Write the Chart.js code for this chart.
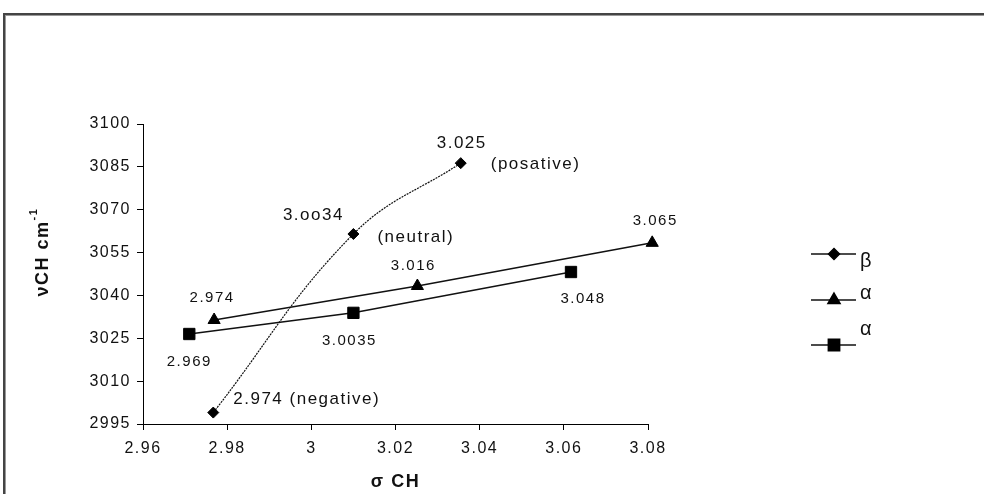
<!DOCTYPE html>
<html>
<head>
<meta charset="utf-8">
<script src="https://cdn.jsdelivr.net/npm/chart.js@4.4.1/dist/chart.umd.min.js"></script>
<style>
  html, body { margin: 0; padding: 0; background: #fff; }
  #wrap { width: 984px; height: 494px; position: relative; }
</style>
</head>
<body>
<div id="wrap"><canvas id="chart" width="984" height="494"></canvas></div>
<script>
// values (x = sigma CH, y = nu CH in cm-1)
const betaSigma = [2.9767, 3.0100, 3.0355];
const betaNu = [2999.0, 3061.5, 3086.3];
const triSigma = [2.9769, 3.0252, 3.0810];
const triNu = [3031.4, 3043.3, 3058.4];
const sqSigma = [2.9710, 3.0100, 3.0617];
const sqNu = [3026.5, 3033.9, 3048.2];

// point labels as printed on the figure
const betaLabels = ["2.974 (negative)", "3.oo34", "3.025"];
const betaNotes = ["", "(neutral)", "(posative)"];
const triLabels = ["2.974", "3.016", "3.065"];
const sqLabels = ["2.969", "3.0035", "3.048"];

const seriesNames = ["\u03b2", "\u03b1", "\u03b1"];
const xTicks = { min: 2.96, max: 3.08, step: 0.02 };
const yTicks = { min: 2995, max: 3100, step: 15 };

const FONT = "'Liberation Sans', Arial, sans-serif";
const SPACING = "1.5px";

const toPoints = (xs, ys) => xs.map((x, i) => ({ x: x, y: ys[i] }));

// letter spacing has to be set again after every canvas reset
const spacingPlugin = {
    id: "spacing",
    beforeLayout(chart) { chart.ctx.letterSpacing = SPACING; },
    beforeDraw(chart) { chart.ctx.letterSpacing = SPACING; }
};

const framePlugin = {
    id: "frame",
    beforeDraw(chart) {
        const ctx = chart.ctx;
        ctx.save();
        ctx.fillStyle = "#fff";
        ctx.fillRect(0, 0, chart.width, chart.height);
        ctx.fillStyle = "#444";
        ctx.fillRect(3, 13, chart.width, 2);
        ctx.fillRect(3, 13, 2, chart.height);
        ctx.fillStyle = "#999";
        ctx.fillRect(5, 15, chart.width, 1);
        ctx.fillRect(5, 15, 1, chart.height);
        ctx.restore();
    }
};

// text next to the points: [dataset, index, text, dx, dy, align, size]
const labelPlugin = {
    id: "pointText",
    afterDatasetsDraw(chart) {
        const ctx = chart.ctx;
        const items = [];
        betaLabels.forEach((t, i) => {
            const off = [[20, -13, "left"], [-40, -19, "center"], [1, -20, "center"]][i];
            items.push([0, i, t, off[0], off[1], off[2], 17]);
        });
        betaNotes.forEach((t, i) => {
            if (!t) return;
            const off = [null, [24, 3], [30, 1]][i];
            items.push([0, i, t, off[0], off[1], "left", 17]);
        });
        const triOff = [[-2, -22], [-4, -20], [3, -22]];
        triLabels.forEach((t, i) => items.push([1, i, t, triOff[i][0], triOff[i][1], "center", 15]));
        const sqOff = [[0, 28], [-4, 28], [12, 27]];
        sqLabels.forEach((t, i) => items.push([2, i, t, sqOff[i][0], sqOff[i][1], "center", 15]));

        ctx.save();
        ctx.letterSpacing = SPACING;
        ctx.fillStyle = "#111";
        ctx.textBaseline = "middle";
        items.forEach(([ds, idx, text, dx, dy, align, size]) => {
            const pt = chart.getDatasetMeta(ds).data[idx];
            ctx.font = size + "px " + FONT;
            ctx.textAlign = align;
            ctx.fillText(text, pt.x + dx, pt.y + dy);
        });
        ctx.restore();
    }
};

const yTitlePlugin = {
    id: "yTitle",
    afterDraw(chart) {
        const ctx = chart.ctx;
        ctx.save();
        ctx.letterSpacing = "1.5px";
        ctx.translate(43, 252);
        ctx.rotate(-Math.PI / 2);
        ctx.fillStyle = "#111";
        ctx.textBaseline = "middle";
        const main = "\u03bdCH cm";
        ctx.font = "bold 18px " + FONT;
        const w1 = ctx.measureText(main).width;
        ctx.font = "bold 11px " + FONT;
        const w2 = ctx.measureText("-1").width;
        const x = -(w1 + w2) / 2;
        ctx.textAlign = "left";
        ctx.font = "bold 18px " + FONT;
        ctx.fillText(main, x, 0);
        ctx.font = "bold 11px " + FONT;
        ctx.fillText("-1", x + w1, -9);
        ctx.restore();
    }
};

const legendPlugin = {
    id: "sideLegend",
    afterDraw(chart) {
        const ctx = chart.ctx;
        const rows = [[254, 261], [300, 293], [345, 329]];
        ctx.save();
        ctx.letterSpacing = "0px";
        chart.data.datasets.forEach((ds, i) => {
            const [ly, ty] = rows[i];
            ctx.strokeStyle = "#111";
            ctx.lineWidth = 1.5;
            ctx.setLineDash([]);
            ctx.beginPath();
            ctx.moveTo(811, ly);
            ctx.lineTo(856, ly);
            ctx.stroke();
            ctx.fillStyle = "#000";
            ctx.strokeStyle = "#000";
            Chart.helpers.drawPoint(ctx, {
                pointStyle: ds.pointStyle,
                radius: ds.pointRadius,
                rotation: 0,
                borderWidth: 1
            }, 834, ly);
            ctx.fillStyle = "#111";
            ctx.font = "20px " + FONT;
            ctx.textAlign = "left";
            ctx.textBaseline = "middle";
            ctx.fillText(ds.label, 860, ty);
        });
        ctx.restore();
    }
};

const seriesStyle = (style, radius, dash, width) => ({
    pointStyle: style,
    pointRadius: radius,
    pointHoverRadius: radius,
    pointBackgroundColor: "#000",
    pointBorderColor: "#000",
    pointBorderWidth: 1,
    borderColor: "#111",
    borderWidth: width,
    borderDash: dash,
    showLine: true,
    clip: false
});

new Chart(document.getElementById("chart"), {
    type: "scatter",
    data: {
        datasets: [
            Object.assign({ label: seriesNames[0], data: toPoints(betaSigma, betaNu), tension: 0.4 },
                seriesStyle("rectRot", 5.5, [2, 1], 1.2)),
            Object.assign({ label: seriesNames[1], data: toPoints(triSigma, triNu), tension: 0 },
                seriesStyle("triangle", 7, [], 1.5)),
            Object.assign({ label: seriesNames[2], data: toPoints(sqSigma, sqNu), tension: 0 },
                seriesStyle("rect", 8, [], 1.5))
        ]
    },
    options: {
        responsive: false,
        animation: false,
        devicePixelRatio: 1,
        layout: { padding: { left: 0, top: 124, right: 336, bottom: 0 } },
        plugins: {
            legend: { display: false },
            tooltip: { enabled: false }
        },
        scales: {
            x: {
                type: "linear",
                min: xTicks.min,
                max: xTicks.max,
                afterFit(scale) { scale.height = 70; },
                ticks: {
                    stepSize: xTicks.step,
                    color: "#111",
                    padding: 9,
                    font: { family: FONT, size: 16 },
                    maxRotation: 0,
                    callback: (v) => String(+Number(v).toFixed(2))
                },
                grid: { drawOnChartArea: false, drawTicks: true, tickLength: 6, color: "#000", lineWidth: 1 },
                border: { display: true, color: "#000", width: 1 },
                title: {
                    display: true,
                    text: "\u03c3 CH",
                    color: "#111",
                    font: { family: FONT, size: 18, weight: "bold" },
                    padding: { top: 0, bottom: 1 }
                }
            },
            y: {
                type: "linear",
                min: yTicks.min,
                max: yTicks.max,
                afterFit(scale) { scale.width = 143; },
                ticks: {
                    stepSize: yTicks.step,
                    color: "#111",
                    padding: 6,
                    font: { family: FONT, size: 16 },
                    callback: (v) => String(v)
                },
                grid: { drawOnChartArea: false, drawTicks: true, tickLength: 6, color: "#000", lineWidth: 1 },
                border: { display: true, color: "#000", width: 1 }
            }
        }
    },
    plugins: [spacingPlugin, framePlugin, labelPlugin, yTitlePlugin, legendPlugin]
});
</script>
</body>
</html>
